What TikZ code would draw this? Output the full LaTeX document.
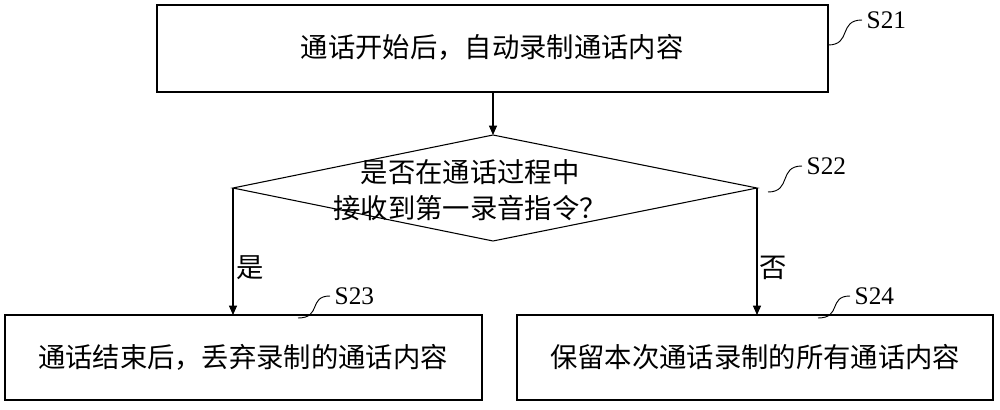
\documentclass[tikz,border=0pt]{standalone}
\usepackage{fontspec}
\setmainfont{Liberation Serif}
\newfontfamily\cjk{Noto Sans CJK SC}
\usetikzlibrary{arrows.meta}
\tikzset{
  box/.style={draw,line width=0.8pt,inner sep=0pt},
  txt/.style={font=\cjk\fontsize{20.5}{27}\selectfont,align=center},
  lab/.style={font=\fontsize{19}{20}\selectfont,anchor=west},
  arr/.style={line width=0.8pt,-{Triangle[length=7pt,width=6pt]}},
  sq/.style={line width=0.7pt}
}
\begin{document}
\begin{tikzpicture}[x=0.75pt,y=-0.75pt]
\useasboundingbox (0,0) rectangle (1000,410);
\draw[box] (157,5) rectangle (828,92);
\node[txt] (t1) at (492,47) {通话开始后，自动录制通话内容};
\coordinate (d1t) at (493,135);
\coordinate (d1l) at (233,188);
\coordinate (d1r) at (757,188);
\coordinate (d1b) at (493,241);
\draw[line width=0.8pt] (d1t) -- (d1r) -- (d1b) -- (d1l) -- cycle;
\node[txt] (t2) at (470,190) {是否在通话过程中\\接收到第一录音指令？};
\draw[box] (5,315) rectangle (482,400);
\node[txt] (t3) at (243,357) {通话结束后，丢弃录制的通话内容};
\draw[box] (517,315) rectangle (993,400);
\node[txt] (t4) at (755,357) {保留本次通话录制的所有通话内容};
\coordinate (b1) at (493,92);
\draw[arr] (b1) -- (d1t);
\coordinate (l3) at (233,315);
\coordinate (r4) at (757,315);
\draw[arr] (d1l) -- (l3);
\draw[arr] (d1r) -- (r4);
\node[txt] (yes) at (250,268) {是};
\node[txt] (no) at (773,268) {否};
\node[lab] (s21) at (862,20) {S21};
\node[lab] (s22) at (802,166) {S22};
\node[lab] (s23) at (330,296) {S23};
\node[lab] (s24) at (850,296) {S24};
\coordinate (a1) at (828,45);
\draw[sq] (a1) .. controls (852,45) and (838,20) .. (s21.west);
\coordinate (a2) at (768,192);
\draw[sq] (a2) .. controls (792,192) and (778,166) .. (s22.west);
\coordinate (a3) at (298,318);
\draw[sq] (a3) .. controls (322,318) and (308,296) .. (s23.west);
\coordinate (a4) at (818,318);
\draw[sq] (a4) .. controls (842,318) and (828,296) .. (s24.west);
\end{tikzpicture}
\end{document}
